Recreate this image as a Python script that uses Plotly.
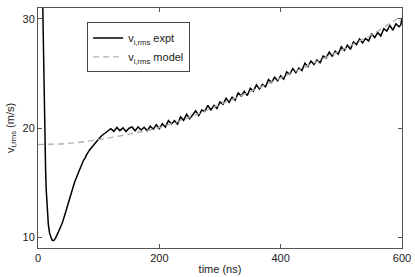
import plotly.graph_objects as go

t_expt = [0, 4, 7, 8.5, 9.5, 10.5, 11.5, 12.5, 13.5, 15, 17, 19, 21, 23, 25, 27, 29, 31, 33, 36,
          40, 45, 50, 55, 58, 60, 65, 70, 75, 78, 80, 85, 90, 95, 100, 105, 110, 115,
          120, 125, 130, 135, 140, 145, 150, 155, 160, 165, 170, 175, 180, 185, 190, 195,
          200, 205, 210, 215, 220, 225, 230, 235, 240, 245, 250, 255, 260, 265, 270, 275,
          280, 285, 290, 295, 300, 305, 310, 315, 320, 325, 330, 335, 340, 345, 350, 355,
          360, 365, 370, 375, 380, 385, 390, 395, 400, 405, 410, 415, 420, 425, 430, 435,
          440, 445, 450, 455, 460, 465, 470, 475, 480, 485, 490, 495, 500, 505, 510, 515,
          520, 525, 530, 535, 540, 545, 550, 555, 560, 565, 570, 575, 580, 585, 590, 595, 598, 600]
v_expt = [60, 42, 34, 29, 25, 21.5, 18.5, 16.2, 14.4, 12.6, 11.2, 10.4, 9.95, 9.75, 9.7, 9.75, 9.95, 10.15, 10.4, 10.8,
          11.3, 12.2, 13.2, 14.1, 14.7, 15.0, 15.7, 16.45, 17.05, 17.3, 17.55, 18.0, 18.35, 18.75, 19.0, 19.3, 19.5, 19.75,
          19.95, 19.70, 20.06, 19.77, 20.02, 19.68, 19.99, 20.10, 19.75, 20.11, 19.82, 20.08, 19.75, 20.17, 19.90, 20.30,
          19.95, 20.40, 20.09, 20.69, 20.38, 20.68, 20.37, 21.02, 20.71, 21.26, 20.85, 21.22, 21.58, 21.15, 21.66, 21.53,
          22.09, 21.66, 22.07, 21.79, 22.40, 22.17, 22.74, 22.36, 22.83, 22.55, 23.22, 22.94, 23.36, 22.98, 23.65, 23.38,
          23.95, 23.58, 24.00, 23.78, 24.45, 24.18, 24.65, 24.33, 24.80, 24.48, 25.15, 24.93, 25.45, 25.08, 25.50, 25.28,
          25.95, 25.63, 26.15, 25.83, 26.25, 25.98, 26.60, 26.43, 26.95, 26.58, 27.05, 26.78, 27.45, 27.12, 27.59, 27.21,
          27.88, 27.65, 28.17, 27.79, 28.21, 27.98, 28.65, 28.28, 28.75, 28.43, 29.10, 28.88, 29.40, 28.98, 29.55, 29.28, 29.45, 30.1]

# model curve
t_model = [0, 50, 100, 150, 200, 250, 300, 350, 400, 450, 500, 550, 600]
v_model = [18.5, 18.6, 18.95, 19.45, 20.05, 21.0, 22.15, 23.35, 24.6, 25.85, 27.15, 28.55, 30.3]

x_ticks = [0, 200, 400, 600]
y_ticks = [10, 20, 30]

FONT = "Liberation Sans, Arial, sans-serif"

fig = go.Figure()
fig.add_trace(go.Scatter(x=t_expt, y=v_expt, mode="lines", name="v<sub>i,rms</sub> expt",
                         line=dict(color="black", width=1.5)))
fig.add_trace(go.Scatter(x=t_model, y=v_model, mode="lines", name="v<sub>i,rms</sub> model",
                         line=dict(color="#b0b0b0", width=1.4, dash="6px,4px", shape="spline")))

axis_common = dict(showgrid=False, zeroline=False, showline=True, linecolor="#555555", linewidth=1,
                   mirror="ticks", ticks="inside", ticklen=4, tickcolor="#555555", automargin=False,
                   tickfont=dict(family=FONT, size=11, color="#222"))

fig.update_xaxes(range=[0, 600], tickvals=x_ticks, ticktext=[str(v) for v in x_ticks],
                 title=dict(text="time (ns)", standoff=2, font=dict(family=FONT, size=11, color="#222")),
                 **axis_common)
fig.update_yaxes(range=[9.02, 31.0], tickvals=y_ticks, ticktext=[str(v) for v in y_ticks],
                 title=dict(text="v<sub>i,rms</sub> (m/s)", standoff=5, font=dict(family=FONT, size=11, color="#222")),
                 **axis_common)

fig.update_layout(
    width=415, height=277,
    margin=dict(l=38, r=13, t=8, b=29),
    plot_bgcolor="white", paper_bgcolor="white",
    showlegend=True,
    legend=dict(x=0.135, y=0.94, xanchor="left", yanchor="top",
                bordercolor="#444", borderwidth=1, bgcolor="white",
                font=dict(family=FONT, size=11, color="#222"),
                tracegroupgap=0, itemwidth=30),
)

fig.write_html("out.html", config={"displayModeBar": False},
               post_script="document.body.style.margin='0px';")
